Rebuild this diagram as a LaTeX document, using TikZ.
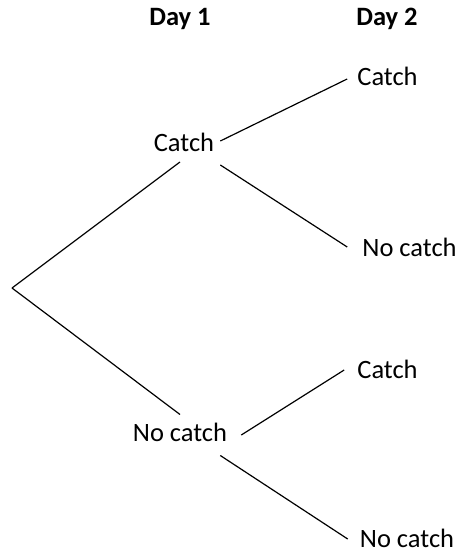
\documentclass[tikz,border=0pt]{standalone}
\usepackage{fontspec}
\setmainfont{Carlito}
\begin{document}
\begin{tikzpicture}[x=1pt,y=-1pt,
  lbl/.style={inner sep=0pt, font=\fontsize{26.5}{30}\selectfont},
  head/.style={lbl, font=\fontsize{26.5}{30}\selectfont\bfseries},
  branch/.style={line width=1.2pt}]
\useasboundingbox (0,0) rectangle (461,553);

% column headings
\node[head] (d1) at (180,19) {Day 1};
\node[head] (d2) at (387,19) {Day 2};

% root of the tree
\coordinate (root) at (12,288);

% day 1 outcomes
\node[lbl] (c1) at (184,142.5) {Catch};
\node[lbl] (n1) at (180,432) {No catch};

% day 2 outcomes
\node[lbl] (cc) at (387.5,76) {Catch};
\node[lbl] (cn) at (409.5,247) {No catch};
\node[lbl] (nc) at (387.5,369) {Catch};
\node[lbl] (nn) at (407,538) {No catch};

% branches
\draw[branch] (root) -- ([shift={(-4,10)}]c1.south);
\draw[branch] (root) -- ([shift={(0,-8)}]n1.north);
\draw[branch] ([shift={(6,-1.5)}]c1.east) -- ([shift={(-10,3)}]cc.west);
\draw[branch] ([shift={(6,13)}]c1.south east) -- ([shift={(-15,0)}]cn.west);
\draw[branch] ([shift={(14,3)}]n1.east) -- ([shift={(-13,1)}]nc.west);
\draw[branch] ([shift={(-7,14)}]n1.south east) -- ([shift={(-12,1)}]nn.west);
\end{tikzpicture}
\end{document}
